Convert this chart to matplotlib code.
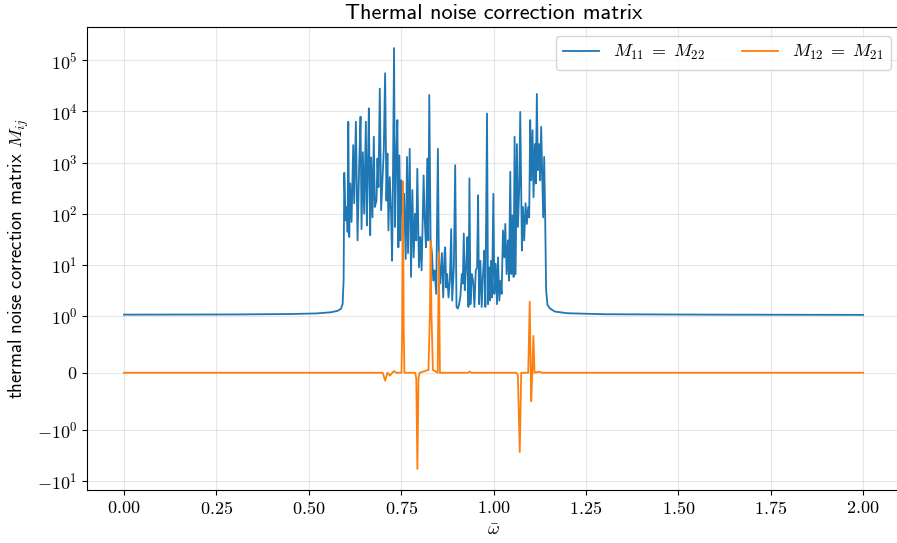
import numpy as np
import matplotlib
matplotlib.use("Agg")
import matplotlib.pyplot as plt
from matplotlib.ticker import NullLocator

plt.rcParams['font.family'] = 'cmr10'
plt.rcParams['mathtext.fontset'] = 'cm'
plt.rcParams['axes.formatter.use_mathtext'] = True

# diagonal element M11 = M22
w_diag = [0.0, 0.30, 0.45, 0.52, 0.56, 0.5782, 0.5872, 0.5917, 0.5944,
          0.5962, 0.5998, 0.6034, 0.6052, 0.6070, 0.6096, 0.6123, 0.6159, 0.6204, 0.6231,
          0.6276, 0.6321, 0.6366, 0.6402, 0.6429, 0.6465, 0.6501, 0.6546, 0.6573, 0.6600,
          0.6627, 0.6663, 0.6689, 0.6725, 0.6761, 0.6788, 0.6833, 0.6860, 0.6887, 0.6923,
          0.6959, 0.6995, 0.7031, 0.7067, 0.7103, 0.7130, 0.7157, 0.7193, 0.7229, 0.7256,
          0.7274, 0.7309, 0.7336, 0.7372, 0.7399, 0.7426, 0.7453, 0.7480, 0.7507, 0.7552,
          0.7579, 0.7624, 0.7660, 0.7687, 0.7732, 0.7768, 0.7804, 0.7840, 0.7876, 0.7911,
          0.7938, 0.7983, 0.8019, 0.8055, 0.8109, 0.8136, 0.8172, 0.8208, 0.8235, 0.8262,
          0.8298, 0.8334, 0.8370, 0.8406, 0.8450, 0.8495, 0.8522, 0.8558, 0.8603, 0.8639,
          0.8675,
          0.8693, 0.8720, 0.8747, 0.8783, 0.8819, 0.8855, 0.8882, 0.8927, 0.8963, 0.8999,
          0.9034, 0.9070, 0.9106, 0.9142, 0.9169, 0.9196, 0.9223, 0.9259, 0.9295, 0.9322,
          0.9349, 0.9376, 0.9412, 0.9448, 0.9484, 0.9520, 0.9556, 0.9583, 0.9609, 0.9645,
          0.9681, 0.9717, 0.9753, 0.9780, 0.9825, 0.9852, 0.9879, 0.9906, 0.9933, 0.9960,
          0.9996, 1.0023, 1.0059, 1.0095, 1.0122, 1.0158, 1.0193, 1.0220, 1.0256, 1.0292,
          1.0319, 1.0355, 1.0391, 1.0418, 1.0454, 1.0481, 1.0508, 1.0544, 1.0571, 1.0598,
          1.0634, 1.0661, 1.0697, 1.0724, 1.0769, 1.0796, 1.0831, 1.0867, 1.0903, 1.0939,
          1.0966, 1.0993, 1.1020, 1.1056, 1.1083, 1.1119, 1.1146, 1.1173, 1.1200, 1.1236,
          1.1263, 1.1290, 1.1317, 1.1344, 1.1371, 1.1397, 1.1424, 1.1460, 1.1523, 1.1658,
          1.20, 1.30, 1.60, 2.0]
m_diag = [1.06, 1.07, 1.09, 1.12, 1.18, 1.26, 1.38, 1.7, 5.0,
          630, 74, 135, 44, 6300, 35, 390, 69, 2200, 160,
          6300, 30, 950, 7900, 50, 1600, 100, 6300, 59, 710,
          11500, 38, 1260, 85, 3200, 135, 180, 1200, 330, 28000,
          117, 450, 1740, 56000, 180, 1500, 47, 520, 100, 12,
          180, 174000, 55, 1740, 6800, 22, 1380, 30, 450, 63,
          245, 13, 1290, 17, 1860, 5.8, 290, 14, 100, 30,
          760, 8.9, 35, 7.8, 560, 85, 22, 1200, 30, 21000,
          30, 17, 4.9, 7.8, 2.7, 1860, 14, 4.3, 17, 2.3,
          17,
          22, 3.6, 6.6, 2.3, 4.9, 50, 2.0, 8.9, 890, 1.5,
          1.4, 1.7, 2.5, 6.6, 4.3, 41, 3.2, 8.9, 35, 1.5,
          490, 1.7, 6.6, 4.9, 1.5, 7.8, 8.9, 230, 1.7, 12,
          1.5, 6.6, 19, 1.5, 9100, 1.7, 8.9, 2.0, 12, 2.3,
          245, 2.7, 10.5, 1.7, 14, 2.0, 4.9, 2.7, 47, 14,
          63, 6.6, 30, 4.9, 660, 6.6, 93, 5.8, 3200, 6.6,
          2300, 55, 330, 9800, 19, 135, 30, 160, 63, 135,
          85, 6800, 450, 4300, 210, 2300, 390, 22000, 710, 2300,
          450, 5000, 710, 85, 1290, 100, 3.2, 1.66, 1.41, 1.22,
          1.13, 1.08, 1.06, 1.05]

# off-diagonal element M12 = M21
w_off = [0.0, 0.700, 0.707, 0.713, 0.720, 0.726, 0.731, 0.737, 0.751, 0.753, 0.755,
         0.757, 0.759, 0.788, 0.791, 0.794, 0.797, 0.800, 0.824, 0.828, 0.830, 0.832,
         0.836, 0.849, 0.852, 0.855, 0.930, 0.936, 0.940, 1.062, 1.066, 1.071, 1.075,
         1.094, 1.098, 1.102, 1.105, 1.108, 1.111, 1.125, 1.130, 2.0]
m_off = [0.0, 0.0, -0.14, 0.0, -0.05, 0.0, 0.03, 0.0, 0.0, 0.8, 427,
         0.8, 0.0, 0.0, -0.1, -5.9, -0.1, 0.0, 0.05, 1.2, 28.7, 1.2,
         0.05, 0.0, 18, 0.0, 0.0, 0.02, 0.0, 0.0, -0.05, -2.76, 0.0,
         0.0, 1.9, -0.5, 0.0, 0.65, 0.0, 0.02, 0.0, 0.0]

fig = plt.figure(figsize=(8.97, 5.43), dpi=100)
ax = fig.add_axes([87 / 897, 53 / 543, 813 / 897, 463 / 543])

ax.plot(w_diag, m_diag, color='#1f77b4', lw=1.3, label=r'$M_{11} \;=\; M_{22}$')
ax.plot(w_off, m_off, color='#ff7f0e', lw=1.3, label=r'$M_{12} \;=\; M_{21}$')

ax.set_yscale('symlog', linthresh=1)
ax.yaxis.set_minor_locator(NullLocator())
ax.grid(True, alpha=0.3)
ax.tick_params(labelsize=13)

ax.set_title('Thermal noise correction matrix', family='cmss10', fontsize=16)
ax.set_ylabel(r'thermal noise correction matrix $M_{ij}$', family='cmss10', fontsize=13.5)
ax.set_xlabel(r'$\bar{\omega}$', fontsize=13)
ax.legend(loc='upper right', ncol=2, fontsize=13)

fig.savefig('out.png', dpi=100)
